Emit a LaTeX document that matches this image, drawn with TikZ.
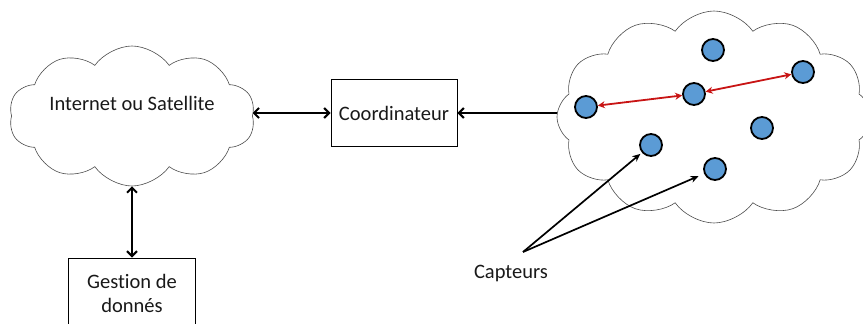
\documentclass[tikz,border=0pt]{standalone}
\usepackage{fontspec}
\setmainfont{Carlito}[Ligatures=NoCommon]
\usetikzlibrary{shapes.symbols,arrows.meta}
\begin{document}
\begin{tikzpicture}[x=1pt,y=-1pt,
  txt/.style={font=\fontsize{20.5}{24}\selectfont, text=black!90},
  cloudbox/.style={cloud, cloud puffs=10, cloud puff arc=110, draw=black!70, line width=0.6pt, inner sep=0pt},
  plainbox/.style={draw=black, line width=0.9pt, inner sep=0pt, txt},
  sensor/.style={circle, draw=black, line width=1.8pt, fill={rgb,255:red,91;green,155;blue,213}, minimum size=22pt, inner sep=0pt},
  link/.style={line width=2pt, {Straight Barb[length=5pt,width=10pt]}-{Straight Barb[length=5pt,width=10pt]}},
  radio/.style={line width=1.8pt, draw={rgb,255:red,200;green,20;blue,20}, {Stealth[length=7pt,width=7pt]}-{Stealth[length=7pt,width=7pt]}},
  pointer/.style={line width=1.7pt, -{Stealth[length=8pt,width=7pt]}}]
\useasboundingbox (0,0) rectangle (863,324);
\clip (0,0) rectangle (863,324);
% clouds
\node[cloudbox, minimum width=246pt, minimum height=140pt] (net) at (132,116) {};
\node[txt] (nettext) at (132,103) {Internet ou Satellite};
\node[cloudbox, minimum width=314pt, minimum height=212pt, cloud puffs=12] (field) at (714,117) {};
% boxes
\node[plainbox, minimum width=126pt, minimum height=67pt] (coord) at (394,113) {Coordinateur};
\node[plainbox, minimum width=127pt, minimum height=80pt] (gest) at (132,298) {};
\node[txt, align=center] (gesttext) at (132,293) {Gestion de\\donnés};
% sensors
\node[sensor] (s1) at (713,50) {};
\node[sensor] (s2) at (803,72) {};
\node[sensor] (s3) at (694,94) {};
\node[sensor] (s4) at (586,107) {};
\node[sensor] (s5) at (762,128) {};
\node[sensor] (s6) at (651,145) {};
\node[sensor] (s7) at (715,169) {};
% connectors
\draw[link] (coord.west -| net.east) -- (coord.west);
\draw[line width=2pt, -{Straight Barb[length=5pt,width=10pt]}] (coord.east -| field.west) -- (coord.east);
\draw[link] (gest.north) -- (gest.north |- net.south);
\draw[radio] (s4) -- (s3);
\draw[radio] (s3) -- (s2);
\coordinate (cap) at (523,252);
\node[txt] (captext) at (511,273) {Capteurs};
\draw[pointer, shorten >=2pt] (cap) -- (s6);
\draw[pointer, shorten >=6pt] (cap) -- (s7);
\end{tikzpicture}
\end{document}
